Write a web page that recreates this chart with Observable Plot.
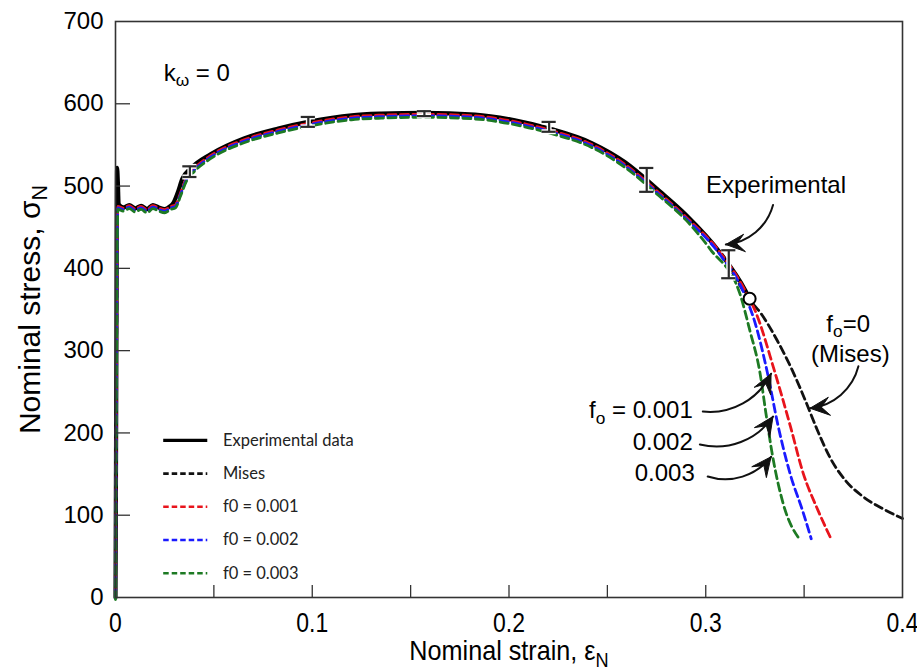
<!DOCTYPE html>
<html><head><meta charset="utf-8">
<script src="https://cdn.jsdelivr.net/npm/d3@7"></script>
<script src="https://cdn.jsdelivr.net/npm/@observablehq/plot@0.6"></script>
<style>
html,body{margin:0;padding:0;background:#fff;}
#chart{width:917px;height:671px;}
</style>
</head><body><div id="chart"></div>
<script>
// ---------- tick values ----------
const xTickLabels = [0, 0.1, 0.2, 0.3, 0.4];
const xTickMarks = [0.05, 0.1, 0.15, 0.2, 0.25, 0.3, 0.35];
const yTickLabels = [0, 100, 200, 300, 400, 500, 600, 700];
const yTickMarks = [100, 200, 300, 400, 500, 600];

// ---------- experimental curve ----------
const expStrain = [0, 0.0004, 0.0008, 0.0012, 0.0016, 0.004, 0.007, 0.010, 0.013, 0.016, 0.019, 0.022, 0.025, 0.028, 0.029, 0.0316, 0.034, 0.038, 0.0485, 0.0653, 0.0827, 0.098, 0.12, 0.135, 0.157, 0.1827, 0.203, 0.2204, 0.2423, 0.259, 0.2765, 0.29, 0.307, 0.3204, 0.3223];
const expStress = [0, 260, 522, 505, 478, 474, 477, 473, 476, 472, 477, 474, 472, 476, 478, 492, 509, 521, 539, 558, 570, 578, 586, 588, 589, 587, 580, 570, 552, 529, 494, 465, 420, 372, 363];

// ---------- model curves (common part up to necking) ----------
const modelStrain = [0, 0.0012, 0.004, 0.007, 0.010, 0.013, 0.016, 0.019, 0.022, 0.025, 0.028, 0.0305, 0.033, 0.036, 0.040, 0.0485, 0.0653, 0.0827, 0.098, 0.12, 0.135, 0.157, 0.1827, 0.203, 0.2204, 0.2423, 0.259, 0.2765, 0.29];
const modelStress = [0, 474, 472, 475, 471, 474, 470, 475, 472, 470, 474, 476, 490, 508, 520, 536, 555, 567, 575, 583, 585, 586, 584, 577, 567, 549, 525, 490, 461];

// tails after necking
const misesTailStrain = [0.307, 0.3216, 0.3287, 0.3364, 0.3440, 0.3507, 0.3568, 0.3634, 0.3711, 0.3797, 0.3899, 0.4];
const misesTailStress = [419, 364, 343, 312, 276, 239, 203, 169, 142, 123, 108, 96];
const f001TailStrain = [0.307, 0.3204, 0.3255, 0.3347, 0.343, 0.3495, 0.357, 0.3633];
const f001TailStress = [419, 370, 345, 276, 207, 150, 105, 72];
const f002TailStrain = [0.307, 0.3195, 0.325, 0.3315, 0.3367, 0.343, 0.3495, 0.3536];
const f002TailStress = [418, 370, 335, 272, 210, 150, 104, 72];
const f003TailStrain = [0.3025, 0.3173, 0.3224, 0.3276, 0.3306, 0.334, 0.3393, 0.348];
const f003TailStress = [425, 372, 327, 275, 226, 174, 117, 72];

const seriesNames = ["Mises", "f0 = 0.001", "f0 = 0.002", "f0 = 0.003"];
const seriesColors = ["#111111", "#e8141c", "#1a1aff", "#1d7a23"];

// ---------- error bars ----------
const errStrain = [0.0378, 0.098, 0.157, 0.2204, 0.270, 0.3117];
const errLow = [511, 572, 585, 566, 493, 388];
const errHigh = [524, 584, 591, 578, 522, 422];

// ---------- legend ----------
const legendLabels = ["Experimental data", "Mises", "f0 = 0.001", "f0 = 0.002", "f0 = 0.003"];
const legendColors = ["#000000", "#111111", "#e8141c", "#1a1aff", "#1d7a23"];

// ---------- annotations ----------
const annotStart = [{x: 0.0245, y: 637, text: "k_{ω} = 0"}];
const annotMiddle = [
  {x: 0.3357, y: 501, text: "Experimental"},
  {x: 0.3724, y: 332, text: "f_{o}=0"},
  {x: 0.3735, y: 295, text: "(Mises)"}
];
const annotEnd = [
  {x: 0.2934, y: 227, text: "f_{o} = 0.001"},
  {x: 0.2934, y: 188, text: "0.002"},
  {x: 0.2944, y: 151, text: "0.003"}
];
const arrowsCW = [
  {x1: 0.3342, y1: 477, x2: 0.3102, y2: 429},
  {x1: 0.3776, y1: 281, x2: 0.3530, y2: 230}
];
const arrowsCCW = [
  {x1: 0.2985, y1: 226, x2: 0.3332, y2: 272},
  {x1: 0.2970, y1: 186, x2: 0.3342, y2: 220},
  {x1: 0.3010, y1: 147, x2: 0.3332, y2: 171}
];

// ---------- build tables ----------
const zip = (xs, ys, extra) => xs.map((x, i) => ({x, y: ys[i], ...extra}));
const expData = zip(expStrain, expStress);
const tails = [
  [misesTailStrain, misesTailStress],
  [f001TailStrain, f001TailStress],
  [f002TailStrain, f002TailStress],
  [f003TailStrain, f003TailStress]
];
const modelSeries = seriesNames.map((name, k) => {
  const cut = tails[k][0][0];
  const base = zip(modelStrain, modelStress, {name}).filter(d => d.x < cut);
  return base.concat(zip(tails[k][0], tails[k][1], {name}));
});
const errData = errStrain.map((x, i) => ({x, lo: errLow[i], hi: errHigh[i]}));
const endPoint = [expData[expData.length - 1]];

const W = 917, H = 671, mt = 21, mb = 74, ml = 115, mr = 15;
const plotW = W - ml - mr, plotH = H - mt - mb;
const capHalf = 0.0036;
const legX1 = 0.0245, legX2 = 0.0469, legTx = 0.0546;
const legendData = legendLabels.map((label, i) => ({label, color: legendColors[i], i, y: 191 - 40.4 * i}));

const lineMarks = [];
lineMarks.push(Plot.line(expData, {x: "x", y: "y", stroke: "#000", strokeWidth: 4.2, strokeLinejoin: "round", curve: "monotone-x"}));
const dyOff = [0, -1, 0.5, 2];
modelSeries.forEach((data, k) => {
  lineMarks.push(Plot.line(data, {x: "x", y: "y", stroke: seriesColors[k], strokeWidth: 2.8, strokeDasharray: "8,4.5", dy: dyOff[k], curve: "monotone-x"}));
});

const sansFont = "'Liberation Sans', Arial, Helvetica, sans-serif";
const legendFont = "Lato, 'Open Sans', sans-serif";
const arrowStyle = {x1: "x1", y1: "y1", x2: "x2", y2: "y2", stroke: "#111", strokeWidth: 2, headLength: 16, headAngle: 50, className: "annot-arrow"};

const chart = Plot.plot({
  width: W, height: H,
  marginTop: mt, marginBottom: mb, marginLeft: ml, marginRight: mr,
  x: {domain: [0, 0.4]},
  y: {domain: [0, 700]},
  style: {fontFamily: sansFont, background: "white", color: "#000", overflow: "visible"},
  marks: [
    ...lineMarks,
    // error bars (halo then bar)
    Plot.ruleX(errData, {x: "x", y1: "lo", y2: "hi", stroke: "white", strokeWidth: 5}),
    Plot.ruleY(errData, {y: "lo", x1: d => d.x - capHalf, x2: d => d.x + capHalf, stroke: "white", strokeWidth: 5}),
    Plot.ruleY(errData, {y: "hi", x1: d => d.x - capHalf, x2: d => d.x + capHalf, stroke: "white", strokeWidth: 5}),
    Plot.ruleX(errData, {x: "x", y1: "lo", y2: "hi", stroke: "#2a2a2a", strokeWidth: 2.2}),
    Plot.ruleY(errData, {y: "lo", x1: d => d.x - capHalf, x2: d => d.x + capHalf, stroke: "#2a2a2a", strokeWidth: 2.2}),
    Plot.ruleY(errData, {y: "hi", x1: d => d.x - capHalf, x2: d => d.x + capHalf, stroke: "#2a2a2a", strokeWidth: 2.2}),
    Plot.dot(endPoint, {x: "x", y: "y", r: 6, fill: "white", stroke: "#000", strokeWidth: 2}),
    // annotation arrows
    Plot.arrow(arrowsCW, {...arrowStyle, bend: 35}),
    Plot.arrow(arrowsCCW, {...arrowStyle, bend: -35}),
    // annotation texts
    Plot.text(annotStart, {x: "x", y: "y", text: "text", textAnchor: "start", fontSize: 24, fill: "#000"}),
    Plot.text(annotMiddle, {x: "x", y: "y", text: "text", textAnchor: "middle", fontSize: 24, fill: "#000"}),
    Plot.text(annotEnd, {x: "x", y: "y", text: "text", textAnchor: "end", fontSize: 24, fill: "#000"}),
    // legend
    Plot.ruleY(legendData.filter(d => d.i === 0), {y: "y", x1: legX1, x2: legX2, stroke: "color", strokeWidth: 3.4}),
    Plot.ruleY(legendData.filter(d => d.i > 0), {y: "y", x1: legX1, x2: legX2, stroke: "color", strokeWidth: 2.6, strokeDasharray: "5.5,3"}),
    Plot.text(legendData, {x: legTx, y: "y", text: "label", textAnchor: "start", fontSize: 16.5, fontFamily: legendFont, fill: "#222"}),
    // inward ticks
    Plot.tickX(xTickMarks, {x: d => d, insetTop: plotH - 12, stroke: "#333", strokeWidth: 1.3}),
    Plot.tickY(yTickMarks, {y: d => d, insetRight: plotW - 15, stroke: "#333", strokeWidth: 1.3}),
    // axes
    Plot.axisX(xTickLabels, {tickSize: 0, tickPadding: 15, label: null, fontSize: 28, tickFormat: d => d === 0 ? "0" : String(d)}),
    Plot.axisY(yTickLabels, {tickSize: 0, tickPadding: 12, label: null, fontSize: 24, tickFormat: d => String(d)}),
    // axis titles
    Plot.text(["Nominal strain, ε_{N}"], {text: d => d, frameAnchor: "bottom", lineAnchor: "middle", textAnchor: "middle", dy: 54, fontSize: 28, fill: "#000", className: "xtitle"}),
    Plot.text(["Nominal stress, σ_{N}"], {text: d => d, frameAnchor: "left", lineAnchor: "middle", textAnchor: "middle", dx: -85, dy: 0, rotate: -90, fontSize: 30, fill: "#000"}),
    Plot.frame({stroke: "#333", strokeWidth: 1.6})
  ]
});

document.getElementById("chart").appendChild(chart);

// ---- condensed look for x tick labels and x title ----
const condense = (node, k) => {
  const tr = node.getAttribute("transform") || "";
  if (tr) {
    node.setAttribute("transform", tr + ` scale(${k},1)`);
  } else {
    const x = +node.getAttribute("x") || 0;
    node.setAttribute("transform", `scale(${k},1)`);
    node.setAttribute("x", x / k);
  }
};
d3.select(chart).selectAll('g[aria-label="x-axis tick label"] text').each(function () { condense(this, 0.82); });
d3.select(chart).selectAll(".xtitle text").each(function () { condense(this, 0.9); });

// ---- subscripts: turn "_{x}" into tspans ----
d3.select(chart).selectAll("text").each(function () {
  const t = this.textContent;
  if (!t.includes("_{")) return;
  const parts = t.split(/(_\{[^}]*\})/).filter(s => s.length);
  const sel = d3.select(this);
  sel.text(null);
  let shifted = false;
  for (const p of parts) {
    if (p.startsWith("_{")) {
      sel.append("tspan").attr("font-size", "72%").attr("dy", "0.3em").text(p.slice(2, -1));
      shifted = true;
    } else {
      const ts = sel.append("tspan").text(p);
      if (shifted) ts.attr("dy", "-0.216em");
      shifted = false;
    }
  }
});

// ---- filled arrow heads ----
d3.select(chart).selectAll(".annot-arrow path").each(function () {
  const d = this.getAttribute("d");
  if (!d) return;
  const idx = d.lastIndexOf("M");
  if (idx <= 0) return;
  const nums = (d.slice(idx).match(/-?\d*\.?\d+(e-?\d+)?/g) || []).map(Number);
  if (nums.length < 6 || nums.some(v => !isFinite(v))) return;
  const [ax, ay, tx, ty, bx, by] = nums;
  const mx = (ax + bx) / 2, my = (ay + by) / 2;
  const nx = tx + 0.6 * (mx - tx), ny = ty + 0.6 * (my - ty);
  this.setAttribute("d", d.slice(0, idx));
  d3.select(this.parentNode).append("path")
    .attr("d", `M${ax},${ay}L${tx},${ty}L${bx},${by}L${nx},${ny}Z`)
    .attr("fill", "#111").attr("stroke", "#111").attr("stroke-width", 1);
});
</script>
</body></html>
